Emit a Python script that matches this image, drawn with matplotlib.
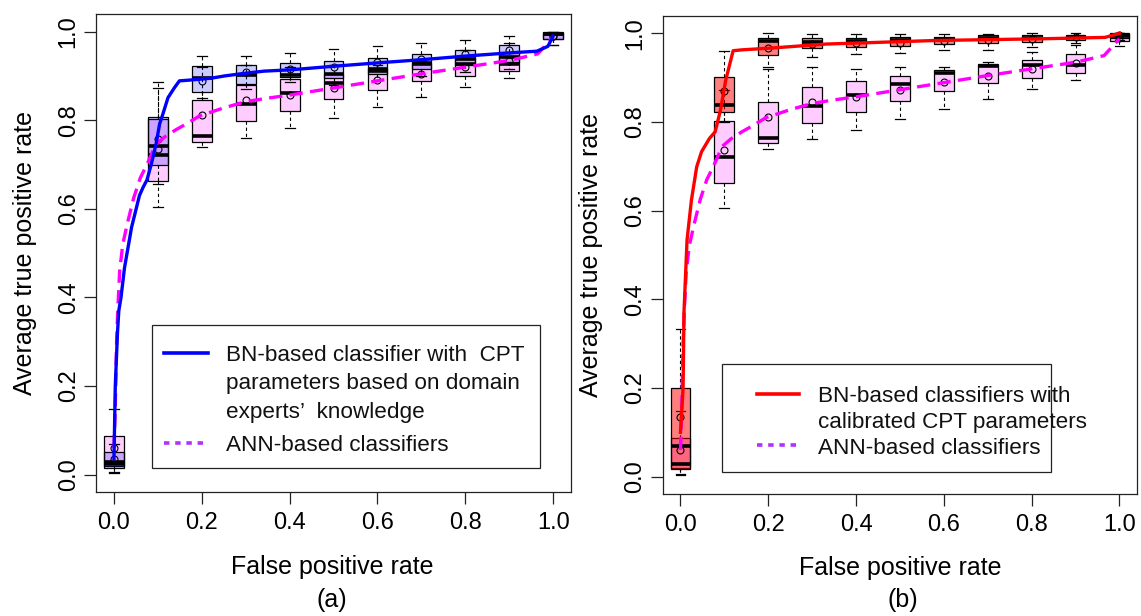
import matplotlib
matplotlib.use('Agg')
import matplotlib.pyplot as plt
import numpy as np
from matplotlib.colors import to_rgba
from matplotlib.lines import Line2D
from matplotlib.patches import Rectangle

plt.rcParams['font.family'] = ['Liberation Sans', 'DejaVu Sans']

W, H = 1141, 616

# ---- box positions (false positive rate grid) ----
positions = [0.0, 0.1, 0.2, 0.3, 0.4, 0.5, 0.6, 0.7, 0.8, 0.9, 1.0]

# ANN-based classifiers (same in both panels)
ann_whislo = [0.003, 0.605, 0.740, 0.761, 0.783, 0.806, 0.830, 0.853, 0.875, 0.896, 0.971]
ann_q1     = [0.020, 0.663, 0.752, 0.798, 0.822, 0.847, 0.869, 0.888, 0.900, 0.911, 0.984]
ann_med    = [0.028, 0.721, 0.765, 0.836, 0.862, 0.885, 0.911, 0.926, 0.928, 0.928, 0.995]
ann_q3     = [0.086, 0.802, 0.845, 0.880, 0.893, 0.905, 0.918, 0.930, 0.941, 0.954, 0.998]
ann_whishi = [0.148, 0.873, 0.920, 0.925, 0.920, 0.925, 0.925, 0.935, 0.958, 0.975, 1.000]
ann_mean   = [0.061, 0.736, 0.811, 0.845, 0.856, 0.873, 0.890, 0.905, 0.920, 0.934, 0.990]

# BN classifier, CPT from domain experts
exp_whislo = [0.005, 0.656, 0.850, 0.871, 0.886, 0.880, 0.890, 0.900, 0.910, 0.915, 0.970]
exp_q1     = [0.014, 0.700, 0.865, 0.882, 0.897, 0.895, 0.905, 0.915, 0.925, 0.931, 0.983]
exp_med    = [0.025, 0.741, 0.896, 0.903, 0.903, 0.905, 0.915, 0.929, 0.939, 0.943, 0.995]
exp_q3     = [0.050, 0.808, 0.922, 0.925, 0.929, 0.934, 0.940, 0.950, 0.959, 0.970, 1.000]
exp_whishi = [0.069, 0.886, 0.946, 0.946, 0.952, 0.960, 0.967, 0.974, 0.982, 0.990, 1.000]
exp_mean   = [0.036, 0.758, 0.889, 0.910, 0.916, 0.921, 0.931, 0.939, 0.949, 0.958, 0.990]

# BN classifiers, calibrated CPT
cal_whislo = [0.005, 0.800, 0.925, 0.947, 0.953, 0.956, 0.962, 0.963, 0.970, 0.978, 0.985]
cal_q1     = [0.017, 0.823, 0.952, 0.967, 0.969, 0.971, 0.976, 0.979, 0.981, 0.985, 0.990]
cal_med    = [0.069, 0.839, 0.983, 0.980, 0.984, 0.985, 0.988, 0.989, 0.990, 0.993, 0.997]
cal_q3     = [0.201, 0.902, 0.990, 0.990, 0.990, 0.993, 0.993, 0.996, 0.996, 0.997, 1.000]
cal_whishi = [0.333, 0.960, 1.000, 0.998, 0.998, 0.998, 0.998, 0.998, 1.000, 1.000, 1.000]
cal_mean   = [0.135, 0.870, 0.967, 0.976, 0.978, 0.979, 0.984, 0.985, 0.988, 0.991, 0.996]

# ---- averaged ROC curves ----
fpr_ann = [0.0, 0.003, 0.006, 0.009, 0.013, 0.020, 0.030, 0.045, 0.060, 0.075, 0.095,
           0.115, 0.140, 0.165, 0.195, 0.250, 0.300, 0.350, 0.400, 0.500, 0.600,
           0.700, 0.800, 0.900, 0.965, 1.0]
tpr_ann = [0.060, 0.150, 0.300, 0.380, 0.460, 0.520, 0.565, 0.625, 0.670, 0.700, 0.745,
           0.762, 0.778, 0.792, 0.810, 0.828, 0.842, 0.850, 0.857, 0.873, 0.889,
           0.905, 0.920, 0.935, 0.950, 0.988]

fpr_exp = [0.0, 0.003, 0.008, 0.011, 0.016, 0.024, 0.040, 0.058, 0.066, 0.075, 0.085,
           0.096, 0.104, 0.111, 0.123, 0.138, 0.149, 0.175, 0.221, 0.251, 0.289,
           0.342, 0.403, 0.500, 0.605, 0.703, 0.800, 0.898, 0.963, 0.988, 1.0]
tpr_exp = [0.036, 0.200, 0.320, 0.370, 0.400, 0.467, 0.558, 0.630, 0.648, 0.665, 0.701,
           0.747, 0.792, 0.813, 0.851, 0.874, 0.889, 0.891, 0.895, 0.900, 0.905,
           0.911, 0.914, 0.922, 0.930, 0.937, 0.945, 0.952, 0.956, 0.967, 0.990]

fpr_cal = [0.0, 0.006, 0.008, 0.015, 0.025, 0.037, 0.048, 0.066, 0.079, 0.091, 0.103,
           0.120, 0.141, 0.207, 0.331, 0.455, 0.579, 0.703, 0.827, 0.967, 1.0]
tpr_cal = [0.100, 0.200, 0.370, 0.534, 0.624, 0.699, 0.733, 0.763, 0.778, 0.826, 0.894,
           0.961, 0.963, 0.967, 0.976, 0.980, 0.984, 0.986, 0.988, 0.991, 1.000]

ticks = [0.0, 0.2, 0.4, 0.6, 0.8, 1.0]
tick_labels = ['0.0', '0.2', '0.4', '0.6', '0.8', '1.0']

legend_exp = ['BN-based classifier with  CPT', 'parameters based on domain',
              'experts\u2019  knowledge']
legend_cal = ['BN-based classifiers with', 'calibrated CPT parameters']
legend_ann = 'ANN-based classifiers'


def box_stats(lo, q1, med, q3, hi, mean):
    return [dict(whislo=a, q1=b, med=c, q3=d, whishi=e, mean=f, fliers=[])
            for a, b, c, d, e, f in zip(lo, q1, med, q3, hi, mean)]


def draw_boxes(ax, stats, color, alpha):
    ax.bxp(stats, positions=positions, widths=0.045, capwidths=0.0225,
           showmeans=True, patch_artist=True, manage_ticks=False,
           boxprops=dict(facecolor=to_rgba(color, alpha), edgecolor='black', linewidth=0.9),
           medianprops=dict(color='black', linewidth=2.6, solid_capstyle='butt'),
           whiskerprops=dict(color='black', linewidth=0.8, linestyle=(0, (3, 2.5))),
           capprops=dict(color='black', linewidth=0.9),
           meanprops=dict(marker='o', markerfacecolor='none', markeredgecolor='black',
                          markersize=5, markeredgewidth=0.8))


def setup_axes(ax):
    ax.set_xlim(-0.04, 1.04)
    ax.set_ylim(-0.04, 1.04)
    ax.set_xticks(ticks)
    ax.set_xticklabels(tick_labels)
    ax.set_yticks(ticks)
    ax.set_yticklabels(tick_labels, rotation=90, va='center')
    ax.tick_params(axis='both', direction='out', length=8.5, width=0.9,
                   labelsize=17, color='#222222')
    ax.tick_params(axis='x', pad=5.5)
    ax.tick_params(axis='y', pad=3.5)
    for sp in ax.spines.values():
        sp.set_linewidth(0.9)
        sp.set_color('#222222')


def fpx(x, y):
    # pixel position -> figure fraction
    return x / W, 1 - y / H


def draw_legend(fig, box, rows, handle_x, handle_rows, text_x, size):
    x0, y0, x1, y1 = box
    fx0, fy1 = fpx(x0, y1)
    fig.add_artist(Rectangle((fx0, fy1), (x1 - x0) / W, (y1 - y0) / H,
                             transform=fig.transFigure, facecolor='white',
                             edgecolor='#222222', linewidth=0.9))
    for (hy, style) in handle_rows:
        xa, ya = fpx(handle_x[0], hy)
        xb, _ = fpx(handle_x[1], hy)
        fig.add_artist(Line2D([xa, xb], [ya, ya], transform=fig.transFigure, **style))
    for ty, txt in rows:
        tx, tyf = fpx(text_x, ty)
        fig.text(tx, tyf, txt, fontsize=size, ha='left', va='baseline', color='#111111')


fig = plt.figure(figsize=(W / 100, H / 100), dpi=100)
ax_a = fig.add_axes([96.4 / W, 1 - 492.3 / H, 474.3 / W, 478.3 / H])
ax_b = fig.add_axes([662.9 / W, 1 - 494.3 / H, 474.1 / W, 478.6 / H])

ann_box = box_stats(ann_whislo, ann_q1, ann_med, ann_q3, ann_whishi, ann_mean)
exp_box = box_stats(exp_whislo, exp_q1, exp_med, exp_q3, exp_whishi, exp_mean)
cal_box = box_stats(cal_whislo, cal_q1, cal_med, cal_q3, cal_whishi, cal_mean)

ann_style = dict(color='#ff00ff', linewidth=2.4, linestyle=(0, (4, 2.2)), zorder=6)
leg_ann_style = dict(color='#b030ff', linewidth=2.6, linestyle=(0, (1.5, 1.6)))

# (a) expert CPT
draw_boxes(ax_a, ann_box, '#ff00ff', 0.2)
draw_boxes(ax_a, exp_box, '#0000ff', 0.2)
ax_a.plot(fpr_ann, tpr_ann, **ann_style)
ax_a.plot(fpr_exp, tpr_exp, color='#0000ff', linewidth=2.4, zorder=7)
setup_axes(ax_a)

# (b) calibrated CPT
draw_boxes(ax_b, ann_box, '#ff00ff', 0.2)
draw_boxes(ax_b, cal_box, '#ff0000', 0.5)
ax_b.plot(fpr_ann, tpr_ann, **ann_style)
ax_b.plot(fpr_cal, tpr_cal, color='#ff0000', linewidth=2.4, zorder=7)
setup_axes(ax_b)

# axis titles and captions
for cx, cy, txt in [(332, 567, 'False positive rate'), (900, 568, 'False positive rate')]:
    fig.text(*fpx(cx, cy), txt, fontsize=18, ha='center', va='center')
for cx, cy, txt in [(25, 253, 'Average true positive rate'), (591, 255, 'Average true positive rate')]:
    fig.text(*fpx(cx, cy), txt, fontsize=18, ha='center', va='center', rotation=90)
fig.text(*fpx(332, 600), '(a)', fontsize=18, ha='center', va='center')
fig.text(*fpx(903, 600), '(b)', fontsize=18, ha='center', va='center')

# legends
draw_legend(fig, (151.8, 325, 540, 468.3),
            [(361, legend_exp[0]), (389.5, legend_exp[1]), (418, legend_exp[2]),
             (451, legend_ann)],
            (164, 208),
            [(353, dict(color='#0000ff', linewidth=2.6)), (443, leg_ann_style)],
            225.7, 16.2)
draw_legend(fig, (721.7, 364.3, 1050.7, 472.3),
            [(402, legend_cal[0]), (428, legend_cal[1]), (454, legend_ann)],
            (756.5, 799),
            [(394, dict(color='#ff0000', linewidth=2.6)), (445, leg_ann_style)],
            817.6, 16.2)

fig.savefig('out.png', dpi=100)
